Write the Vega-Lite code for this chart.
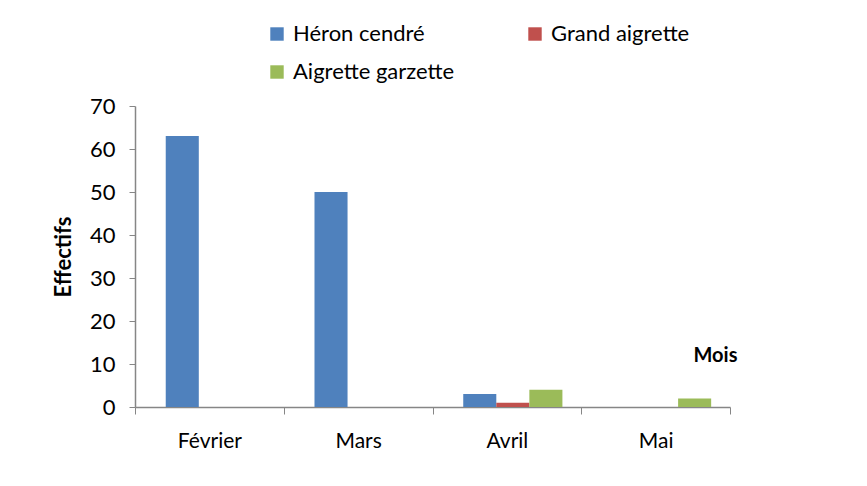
{
  "$schema": "https://vega.github.io/schema/vega-lite/v6.json",
  "width": 595,
  "height": 301,
  "autosize": {"type": "none"},
  "padding": {"left": 135, "top": 106, "right": 137, "bottom": 79},
  "background": "white",
  "data": {
    "values": [
      {"mois": "Février", "espece": "Héron cendré", "effectif": 63},
      {"mois": "Février", "espece": "Grand aigrette", "effectif": 0},
      {"mois": "Février", "espece": "Aigrette garzette", "effectif": 0},
      {"mois": "Mars", "espece": "Héron cendré", "effectif": 50},
      {"mois": "Mars", "espece": "Grand aigrette", "effectif": 0},
      {"mois": "Mars", "espece": "Aigrette garzette", "effectif": 0},
      {"mois": "Avril", "espece": "Héron cendré", "effectif": 3},
      {"mois": "Avril", "espece": "Grand aigrette", "effectif": 1},
      {"mois": "Avril", "espece": "Aigrette garzette", "effectif": 4},
      {"mois": "Mai", "espece": "Héron cendré", "effectif": 0},
      {"mois": "Mai", "espece": "Grand aigrette", "effectif": 0},
      {"mois": "Mai", "espece": "Aigrette garzette", "effectif": 2}
    ]
  },
  "mark": {"type": "bar"},
  "encoding": {
    "x": {
      "field": "mois",
      "type": "nominal",
      "sort": ["Février", "Mars", "Avril", "Mai"],
      "scale": {"paddingInner": 0, "paddingOuter": 0},
      "axis": {
        "title": "Mois",
        "titleFont": "Lato",
        "titleFontSize": 20,
        "titleFontWeight": "bold",
        "titleColor": "black",
        "titleX": 580,
        "titleY": -52,
        "titleAnchor": "middle",
        "titleBaseline": "middle",
        "labelAngle": 0,
        "labelFont": "Lato",
        "labelFontSize": 21,
        "labelColor": "black",
        "labelPadding": 16,
        "domainColor": "#868686",
        "domainWidth": 1.5,
        "tickColor": "#868686",
        "tickSize": 7,
        "tickBand": "extent"
      }
    },
    "xOffset": {
      "field": "espece",
      "type": "nominal",
      "sort": ["Héron cendré", "Grand aigrette", "Aigrette garzette"],
      "scale": {"paddingInner": 0, "paddingOuter": 0.75, "align": 0.62}
    },
    "y": {
      "field": "effectif",
      "type": "quantitative",
      "scale": {"domain": [0, 70], "nice": false},
      "axis": {
        "title": "Effectifs",
        "titleFont": "Lato",
        "titleFontSize": 22,
        "titleFontWeight": "bold",
        "titleColor": "black",
        "titlePadding": 14,
        "values": [0, 10, 20, 30, 40, 50, 60, 70],
        "labelFont": "Lato",
        "labelFontSize": 22,
        "labelColor": "black",
        "labelPadding": 14,
        "grid": false,
        "domainColor": "#868686",
        "domainWidth": 1.5,
        "tickColor": "#868686",
        "tickSize": 6
      }
    },
    "color": {
      "field": "espece",
      "type": "nominal",
      "sort": ["Héron cendré", "Grand aigrette", "Aigrette garzette"],
      "scale": {
        "domain": ["Héron cendré", "Grand aigrette", "Aigrette garzette"],
        "range": ["#4F81BD", "#C0504D", "#9BBB59"]
      },
      "legend": {
        "title": null,
        "orient": "none",
        "legendX": 131,
        "legendY": -83,
        "direction": "horizontal",
        "columns": 2,
        "columnPadding": 69,
        "rowPadding": 16,
        "symbolType": "square",
        "symbolSize": 180,
        "symbolStrokeWidth": 0,
        "symbolOpacity": 1,
        "labelFont": "Lato",
        "labelFontSize": 22,
        "labelColor": "black",
        "labelOffset": 5,
        "labelLimit": 400
      }
    }
  },
  "config": {"view": {"stroke": null}}
}
